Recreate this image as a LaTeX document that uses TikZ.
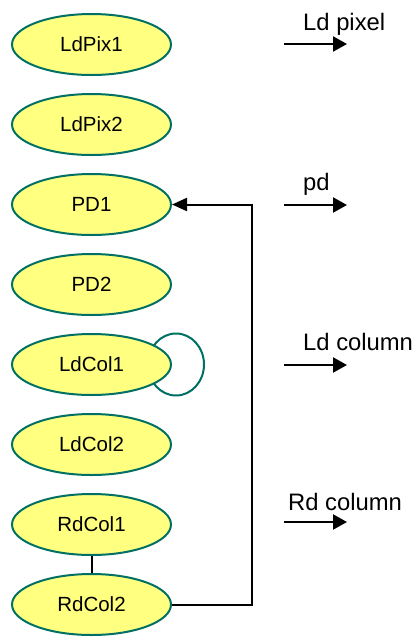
\documentclass[tikz,border=0pt]{standalone}
\usepackage{fontspec}
\setmainfont{Liberation Sans}
\usetikzlibrary{shapes.geometric,arrows.meta,backgrounds}
\definecolor{statefill}{RGB}{255,255,128}
\definecolor{stateline}{RGB}{0,112,100}
\begin{document}
\begin{tikzpicture}[x=1pt,y=-1pt,
  state/.style={ellipse,draw=stateline,fill=statefill,line width=2pt,
    minimum width=159pt,minimum height=61pt,inner sep=0pt,
    font=\fontsize{20.5}{24}\selectfont},
  legendarrow/.style={line width=2.2pt,-{Triangle[length=14pt,width=15pt]}},
  legendtext/.style={anchor=base west,inner sep=0pt,
    font=\fontsize{23.8}{28}\selectfont},
  link/.style={line width=2pt},
  selfloop/.style={draw=stateline,line width=2pt}]
\useasboundingbox (0,0) rectangle (419,638);

% states
\node[state] (s1) at (91.5,44.5)  {LdPix1};
\node[state] (s2) at (91.5,124.5) {LdPix2};
\node[state] (s3) at (91.5,204.5) {PD1};
\node[state] (s4) at (91.5,284.5) {PD2};
\node[state] (s5) at (91.5,364.5) {LdCol1};
\node[state] (s6) at (91.5,444.5) {LdCol2};
\node[state] (s7) at (91.5,524.5) {RdCol1};
\node[state] (s8) at (91.5,604.5) {RdCol2};

% self loop on LdCol1, kept behind the ellipse
\begin{scope}[on background layer]
  \draw[selfloop] ([xshift=4pt]s5.east) ellipse [x radius=28pt,y radius=31pt];
\end{scope}

% connections
\draw[link] (s7.south) -- (s8.north);
\draw[link,-{Triangle[length=15pt,width=13pt]}] (s8.east) -- ++(80,0) |- (s3.east);

% legend
\coordinate (a1s) at (284,44);  \coordinate (a1e) at (347,44);
\coordinate (a2s) at (284,205); \coordinate (a2e) at (347,205);
\coordinate (a3s) at (284,365); \coordinate (a3e) at (347,365);
\coordinate (a4s) at (284,522); \coordinate (a4e) at (347,522);
\draw[legendarrow] (a1s) -- (a1e);
\draw[legendarrow] (a2s) -- (a2e);
\draw[legendarrow] (a3s) -- (a3e);
\draw[legendarrow] (a4s) -- (a4e);
\node[legendtext] (t1) at (303,30)  {Ld pixel};
\node[legendtext] (t2) at (303,190) {pd};
\node[legendtext] (t3) at (303,350) {Ld column};
\node[legendtext] (t4) at (288,510) {Rd column};
\end{tikzpicture}
\end{document}
